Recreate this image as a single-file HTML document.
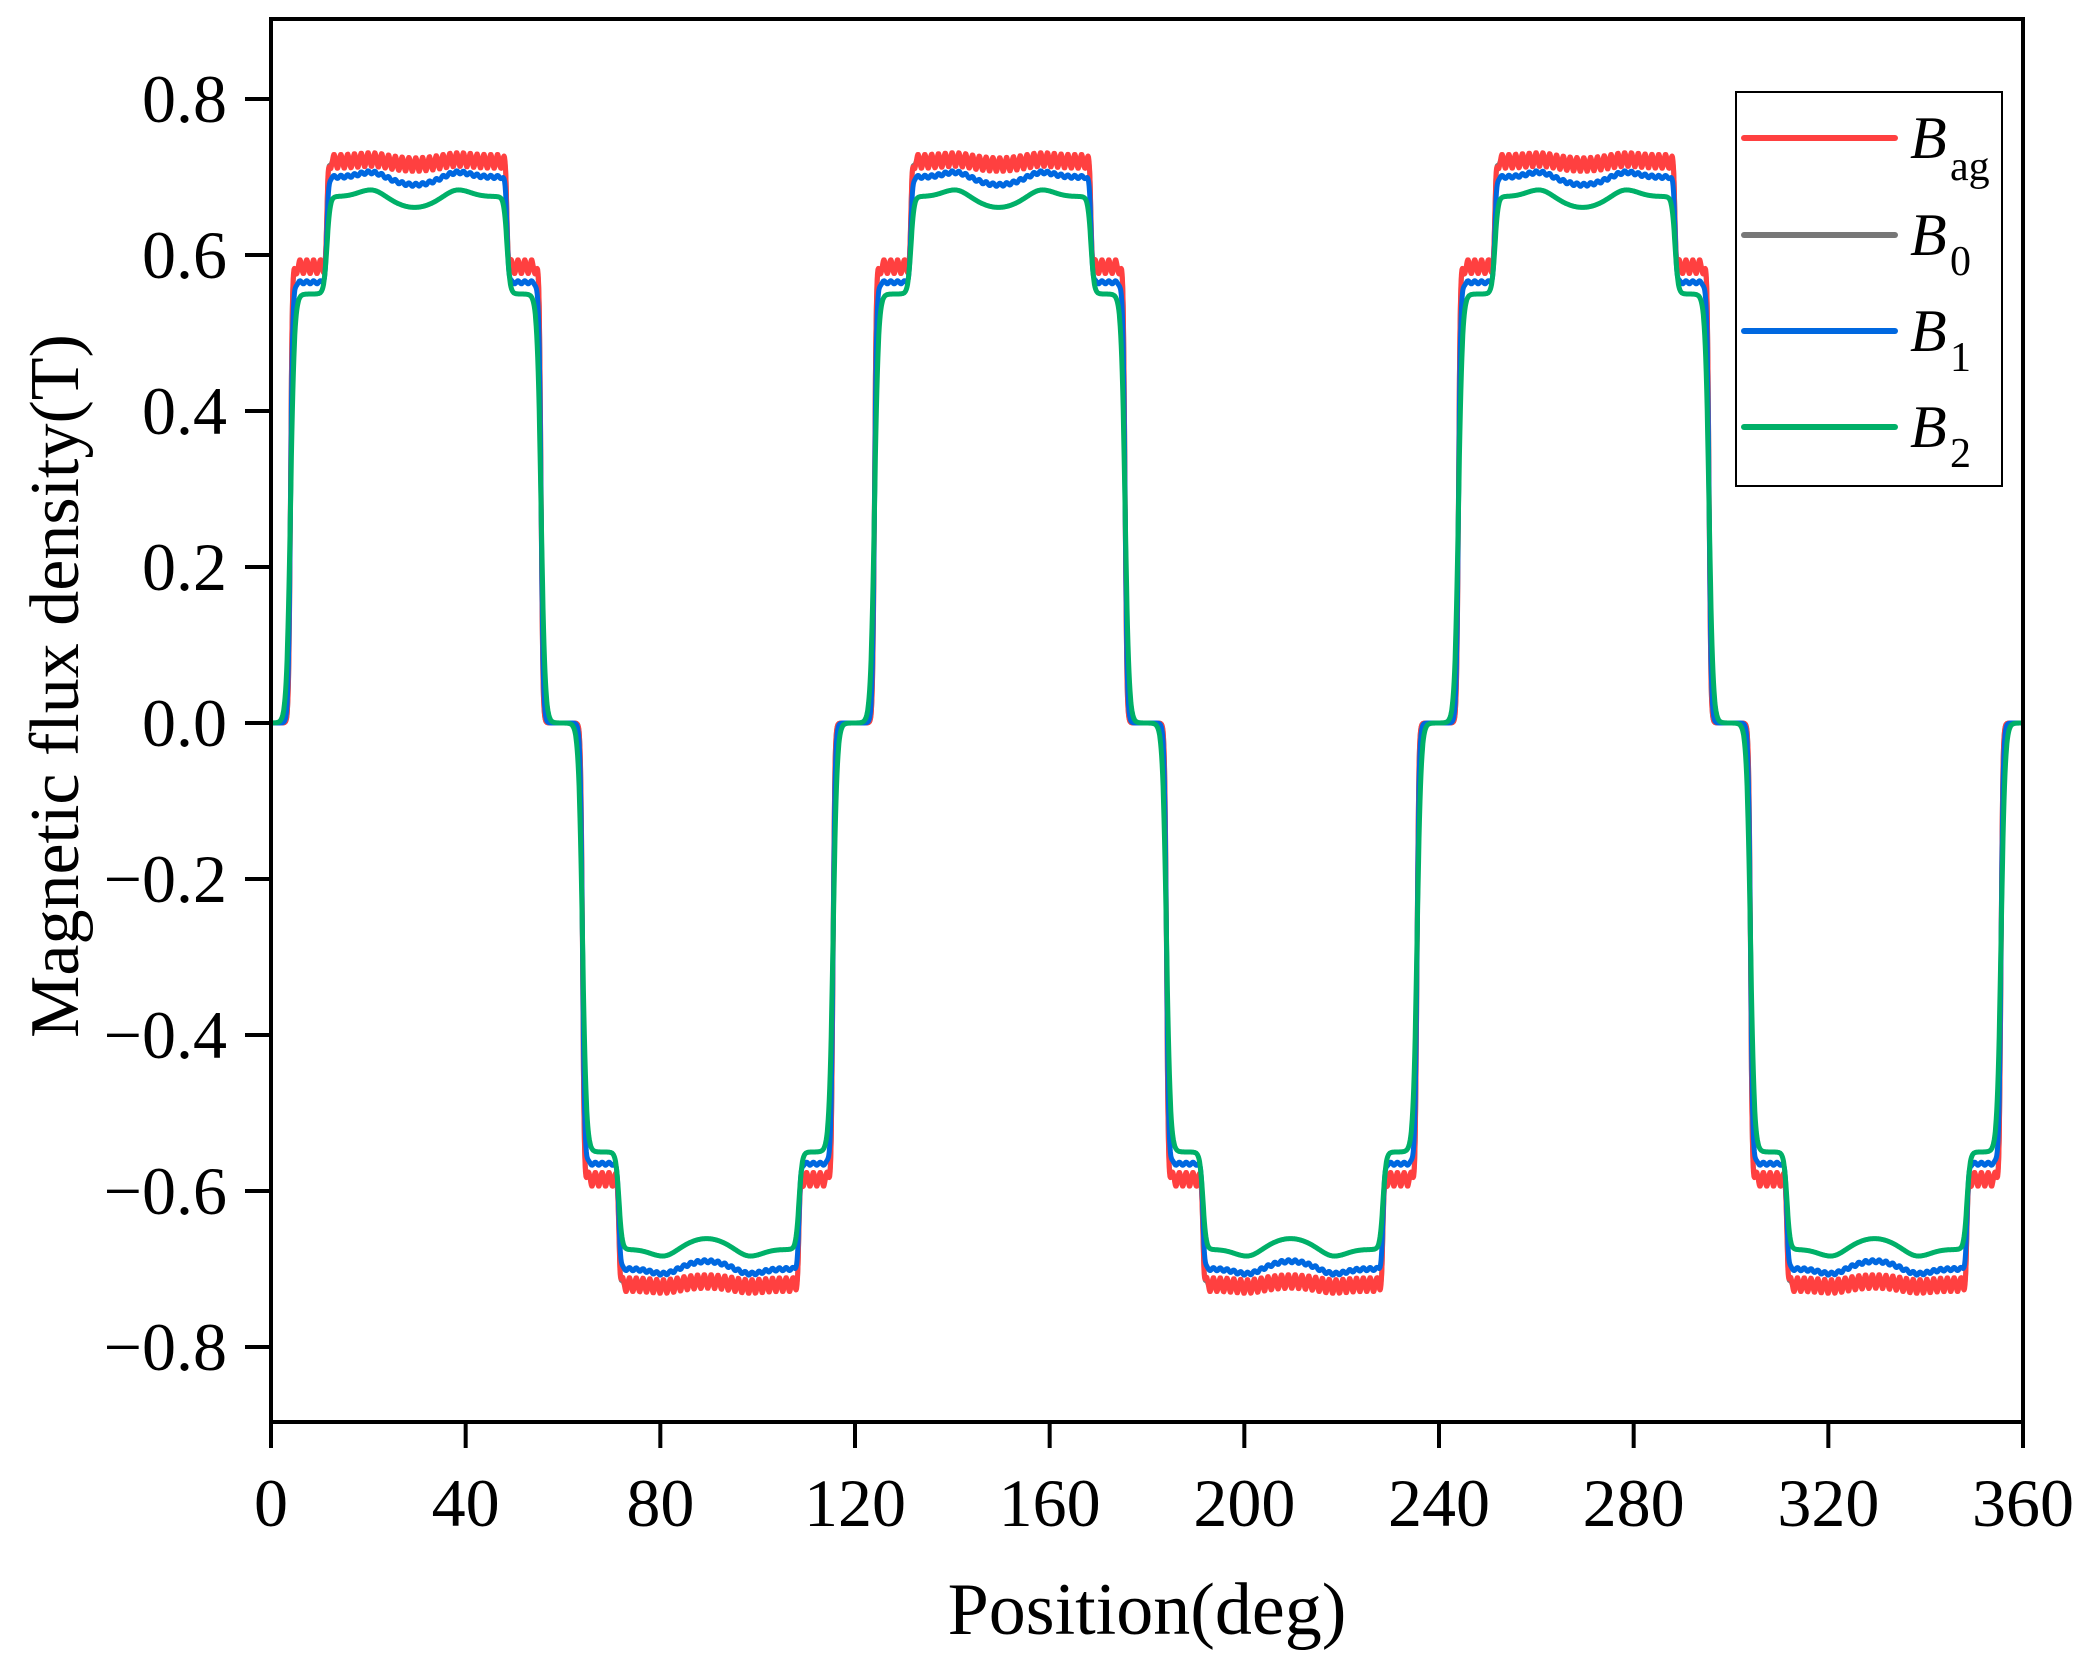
<!DOCTYPE html>
<html><head><meta charset="utf-8"><style>
html,body{margin:0;padding:0;background:#fff}
svg{display:block}
text{font-family:"Liberation Serif",serif;fill:#000}
</style></head><body>
<svg id="s" width="2087" height="1664" xmlns="http://www.w3.org/2000/svg">
<g id="curves"></g>
<rect x="271" y="19" width="1752" height="1403" fill="none" stroke="#000" stroke-width="4"/>
<g id="ticks" stroke="#000" stroke-width="4"></g>
<g id="labels" font-size="68"></g>
<text x="1147" y="1634" font-size="74" text-anchor="middle">Position(deg)</text>
<text transform="translate(78,686) rotate(-90)" font-size="70" text-anchor="middle">Magnetic flux density(T)</text>
<rect x="1736" y="92" width="266" height="394" fill="#fff" stroke="#000" stroke-width="2"/>
<g stroke-width="6" stroke-linecap="round">
<line x1="1744" y1="138" x2="1895" y2="138" stroke="#ff4040"/>
<line x1="1744" y1="235" x2="1895" y2="235" stroke="#777"/>
<line x1="1744" y1="331" x2="1895" y2="331" stroke="#0068e0"/>
<line x1="1744" y1="427" x2="1895" y2="427" stroke="#00b068"/>
</g>
<g font-size="60" font-style="italic">
<text x="1910" y="158">B</text><text x="1950" y="180" font-size="42" font-style="normal">ag</text>
<text x="1910" y="255">B</text><text x="1950" y="275" font-size="42" font-style="normal">0</text>
<text x="1910" y="351">B</text><text x="1950" y="371" font-size="42" font-style="normal">1</text>
<text x="1910" y="447">B</text><text x="1950" y="467" font-size="42" font-style="normal">2</text>
</g>
</svg>
<script>
var L=271,R=2023,T=19,B=1422,Y0=723,DY=156/0.2;
function X(d){return L+(R-L)*d/360}
function Yp(v){return Y0-v*DY}
var tk=document.getElementById('ticks'),lb=document.getElementById('labels'),h='',l='';
for(var d=0;d<=360;d+=40){h+='<line x1="'+X(d)+'" y1="'+B+'" x2="'+X(d)+'" y2="'+(B+26)+'"/>';l+='<text x="'+X(d)+'" y="'+(B+104)+'" text-anchor="middle">'+d+'</text>';}
for(var v=-8;v<=8;v+=2){var y=Yp(v/10);h+='<line x1="'+(L-26)+'" y1="'+y+'" x2="'+L+'" y2="'+y+'"/>';l+='<text x="'+(L-44)+'" y="'+(y+23)+'" text-anchor="end">'+(v<0?'\u2212':'')+(Math.abs(v)/10).toFixed(1)+'</text>';}
tk.innerHTML=h;lb.innerHTML=l;
function g(x,w){return 0.5*(1+Math.tanh(x/w))}
function half(t,a,b,w,dip,rip){
 var v=a*g(t-4,w)+b*g(t-11.5,w*0.8)-b*g(t-48.5,w*0.8)-a*g(t-55.5,w);
 var top=g(t-11.5,w*0.8)-g(t-48.5,w*0.8);
 v-=top*dip*0.5*(1+Math.cos(Math.min(1,Math.abs(t-29.5)/9)*Math.PI));
 v+=top*dip*0.6*(Math.exp(-Math.pow((t-20.5)/3.5,2))+Math.exp(-Math.pow((t-38.5)/3.5,2)));
 if(rip){var p=g(t-4,w)-g(t-55.5,w);v+=p*rip*Math.sin(t*2*Math.PI/1.4);}
 return v;}
function f(d,a,b,w,dip,rip){var t=d%120;if(t<60)return half(t,a,b,w,dip,rip);return -half(t-60,a,b,w,dip,rip);}
function path(a,b,w,dip,rip,col,sw){var s='';for(var d=0;d<=360;d+=0.1){s+=(d?'L':'M')+X(d).toFixed(1)+' '+Yp(f(d,a,b,w,dip,rip)).toFixed(1);}
 return '<path d="'+s+'" fill="none" stroke="'+col+'" stroke-width="'+sw+'" stroke-linejoin="round"/>';}
document.getElementById('curves').innerHTML=
 path(0.585,0.135,0.35,0.005,0.004,'#777',5)+
 path(0.585,0.135,0.35,0.004,0.009,'#ff4040',5)+
 path(0.565,0.135,0.45,0.010,0.002,'#0068e0',5)+
 path(0.55,0.125,0.8,0.014,0,'#00b068',5);
</script>
</body></html>
